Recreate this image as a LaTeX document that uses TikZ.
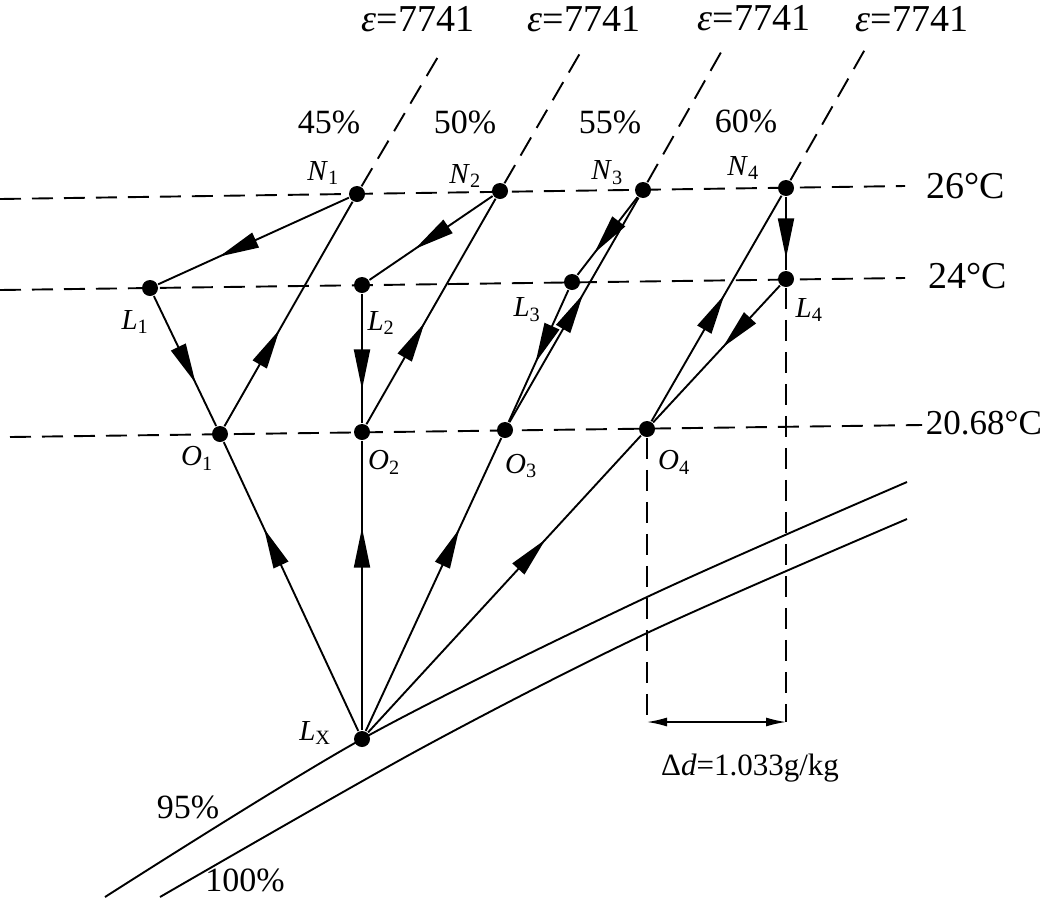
\documentclass[tikz,border=0pt]{standalone}
\usepackage{fontspec}
\setmainfont{Liberation Serif}
\usetikzlibrary{arrows.meta,decorations.markings}
\newcommand{\ptname}[2]{\textit{#1}\textsubscript{#2}}

\begin{document}
\begin{tikzpicture}[x=1pt,y=-1pt,line width=1.9pt,
  dot/.style={circle,fill,inner sep=0pt,minimum size=16pt},
  isoline/.style={dash pattern=on 21pt off 11pt},
  mid/.style={postaction={decorate},decoration={markings,
      mark=at position #1 with {\arrow{Triangle[length=40pt,width=16pt]}}}},
  big/.style={font=\fontsize{38}{40}\selectfont},
  pct/.style={font=\fontsize{34}{36}\selectfont},
  lab/.style={font=\fontsize{29}{32}\selectfont}]
  \useasboundingbox (0,0) rectangle (1048,897);

  % Isotherms
  \coordinate (w26) at (0,199);  \coordinate (e26) at (905,186);
  \coordinate (w24) at (0,290);  \coordinate (e24) at (905,278);
  \coordinate (w20) at (10,437); \coordinate (e20) at (922,425);
  \draw[isoline] (w26) -- (e26);
  \draw[isoline] (w24) -- (e24);
  \draw[isoline] (w20) -- (e20);

  % Relative humidity curves 95% and 100%
  \draw plot[smooth,tension=0.5] coordinates {(105,897) (362,739) (647,597) (907,482)};
  \draw plot[smooth,tension=0.5] coordinates {(160,897) (420,749) (647,633) (907,519)};

  % State points
  \foreach \i/\x/\y in {1/357/194, 2/500/191, 3/643/190, 4/786/188}
    \node[dot] (N\i) at (\x,\y) {};
  \foreach \i/\x/\y in {1/150/288, 2/362/285, 3/572/282, 4/786/279}
    \node[dot] (L\i) at (\x,\y) {};
  \foreach \i/\x/\y in {1/220/434, 2/362/432, 3/505/430, 4/647/429}
    \node[dot] (O\i) at (\x,\y) {};
  \node[dot] (LX) at (362,739) {};

  % Heat-moisture ratio lines
  \foreach \i/\x/\y in {1/442/50, 2/583/48, 3/724/47, 4/868/44}{
    \coordinate (top\i) at (\x,\y);
    \draw[isoline] (N\i) -- (top\i);
  }

  % Processes
  \draw[mid=0.68] (N1) -- (L1);
  \draw[mid=0.67] (L1) -- (O1);
  \draw[mid=0.43] (O1) -- (N1);
  \draw[mid=0.63] (N2) -- (L2);
  \draw[mid=0.74] (L2) -- (O2);
  \draw[mid=0.45] (O2) -- (N2);
  \draw[mid=0.72] (N3) -- (L3);
  \draw[mid=0.55] (L3) -- (O3);
  \draw[mid=0.57] (O3) -- (N3);
  \draw[mid=0.84] (N4) -- (L4);
  \draw[mid=0.45] (L4) -- (O4);
  \draw[mid=0.56] (O4) -- (N4);
  \draw[mid=0.70] (LX) -- (O1);
  \draw[mid=0.70] (LX) -- (O2);
  \draw[mid=0.69] (LX) -- (O3);
  \draw[mid=0.65] (LX) -- (O4);

  % Moisture difference
  \coordinate (d1) at (647,722);
  \coordinate (d2) at (786,722);
  \draw[isoline] (O4) -- (d1);
  \draw[isoline] (L4) -- (d2);
  \draw[{Latex[length=20pt,width=9pt]}-{Latex[length=20pt,width=9pt]},line width=1.5pt] (d1) -- (d2);
  \node[font=\fontsize{31}{33}\selectfont] (dlab) at (750,768) {Δ\textit{d}=1.033g/kg};

  % Labels
  \foreach \i/\x/\y in {1/418/19, 2/584/19, 3/754/18, 4/912/19}
    \node[big] (eps\i) at (\x,\y) {\textit{ε}=7741};
  \foreach \i/\p/\x/\y in {1/45/329/122, 2/50/465/122, 3/55/610/122, 4/60/746/121}
    \node[pct] (rh\i) at (\x,\y) {\p\%};
  \foreach \i/\x/\y in {1/323/173, 2/465/176, 3/607/173, 4/743/168}
    \node[lab] (lN\i) at (\x,\y) {\ptname{N}{\i}};
  \foreach \i/\x/\y in {1/135/322, 2/381/323, 3/527/310, 4/809/310}
    \node[lab] (lL\i) at (\x,\y) {\ptname{L}{\i}};
  \foreach \i/\x/\y in {1/197/458, 2/384/462, 3/521/466, 4/674/462}
    \node[lab] (lO\i) at (\x,\y) {\ptname{O}{\i}};
  \node[lab] (lLX) at (315,733) {\ptname{L}{X}};
  \node[big] (t26) at (966,186) {26°C};
  \node[big] (t24) at (968,276) {24°C};
  \node[big,font=\fontsize{35}{37}\selectfont] (t20) at (984,423) {20.68°C};
  \node[pct] (rh95) at (188,807) {95\%};
  \node[pct] (rh100) at (245,880) {100\%};
\end{tikzpicture}
\end{document}
